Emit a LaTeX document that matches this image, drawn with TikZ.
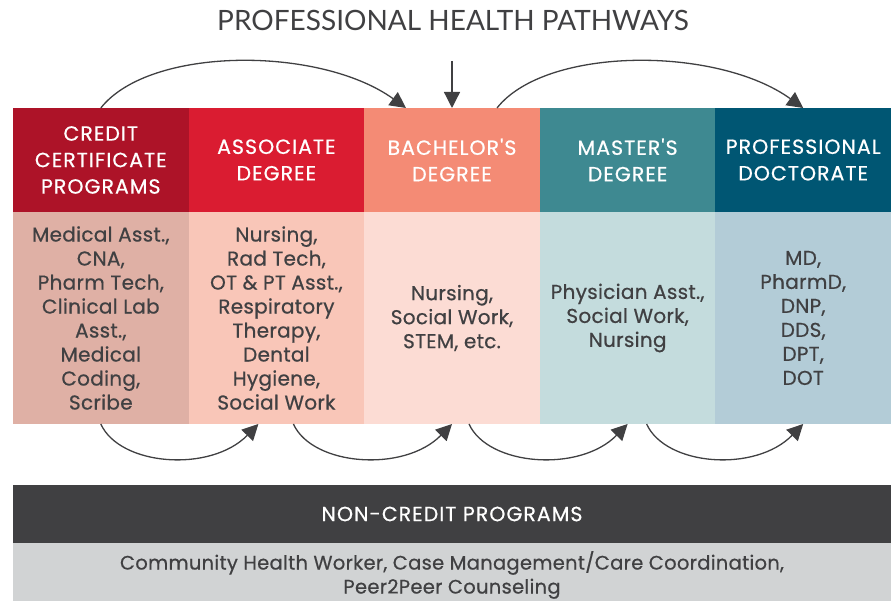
\documentclass[tikz,border=0pt]{standalone}
\usepackage{fontspec}
\setmainfont{Lato}
\newfontfamily\poppins{Poppins}[FakeBold=0.6,LetterSpace=1.5]
\newfontfamily\poppinscaps{Poppins}[FakeBold=0.6,LetterSpace=5]
\usepackage{tikz}
\usetikzlibrary{arrows.meta,calc,positioning}
\definecolor{hdA}{HTML}{AD1328}
\definecolor{hdB}{HTML}{DA1C31}
\definecolor{hdC}{HTML}{F48B75}
\definecolor{hdD}{HTML}{3E8991}
\definecolor{hdE}{HTML}{005673}
\definecolor{bdA}{HTML}{DFB0A5}
\definecolor{bdB}{HTML}{F9C6B8}
\definecolor{bdC}{HTML}{FCDCD4}
\definecolor{bdD}{HTML}{C4DCDD}
\definecolor{bdE}{HTML}{B3CCD7}
\definecolor{ink}{HTML}{404042}
\definecolor{ncgray}{HTML}{D1D3D4}
\tikzset{
  head/.style  = {inner sep=0pt, outer sep=0pt, minimum width=175.6pt, minimum height=104pt,
                  text=white, align=center, font=\poppinscaps\fontsize{20.5}{26.5}\selectfont},
  body/.style  = {inner sep=0pt, outer sep=0pt, minimum width=175.6pt, minimum height=212pt,
                  text=ink, align=center, font=\poppins\fontsize{20}{24}\selectfont},
  ncbar/.style = {inner sep=0pt, outer sep=0pt, minimum width=878pt, minimum height=58pt,
                  align=center, font=\poppins\fontsize{19.5}{24}\selectfont},
  arr/.style   = {-{Triangle[length=16pt,width=16pt]}, line width=1.3pt, ink},
}
\begin{document}
\begin{tikzpicture}[x=1pt,y=1pt]
  \useasboundingbox (0,0) rectangle (891,601);
  \node[text=ink,font=\fontsize{28}{30}\selectfont] (ttl) at (453,581) {PROFESSIONAL HEALTH PATHWAYS};
  % degree headers
  \node[head,fill=hdA,anchor=north west] (cred) at (13,493) {CREDIT\\CERTIFICATE\\PROGRAMS};
  \node[head,fill=hdB,right=0pt of cred] (assoc) {ASSOCIATE\\DEGREE};
  \node[head,fill=hdC,right=0pt of assoc] (bach) {BACHELOR'S\\DEGREE};
  \node[head,fill=hdD,right=0pt of bach] (mast) {MASTER'S\\DEGREE};
  \node[head,fill=hdE,right=0pt of mast] (doct) {PROFESSIONAL\\DOCTORATE};
  % programs
  \node[body,fill=bdA,below=0pt of cred] (credB) {Medical Asst.,\\CNA,\\Pharm Tech,\\Clinical Lab\\Asst.,\\Medical\\Coding,\\Scribe};
  \node[body,fill=bdB,below=0pt of assoc] (assocB) {Nursing,\\Rad Tech,\\OT \& PT Asst.,\\Respiratory\\Therapy,\\Dental\\Hygiene,\\Social Work};
  \node[body,fill=bdC,below=0pt of bach] (bachB) {Nursing,\\Social Work,\\STEM, etc.};
  \node[body,fill=bdD,below=0pt of mast] (mastB) {Physician Asst.,\\Social Work,\\Nursing};
  \node[body,fill=bdE,below=0pt of doct] (doctB) {MD,\\PharmD,\\DNP,\\DDS,\\DPT,\\DOT};
  % non-credit
  \node[ncbar,fill=ink,text=white,anchor=north west,font=\poppinscaps\fontsize{20.5}{24}\selectfont] (noncr) at (13,116) {NON-CREDIT PROGRAMS};
  \node[ncbar,fill=ncgray,text=ink,below=0pt of noncr] (noncrB) {\raisebox{-3pt}[\height][\depth]{\parbox{870pt}{\centering Community Health Worker, Case Management/Care Coordination,\\Peer2Peer Counseling}}};
  % pathways
  \coordinate (drop) at (452,540);
  \draw[arr] (drop) -- (bach.north);
  \draw[arr] (cred.north) .. controls +(49,62) and +(-86,62) .. ($(bach.north)+(-46,0)$);
  \draw[arr] ($(bach.north)+(45,0)$) .. controls +(49,62) and +(-86,62) .. (doct.north);
  \draw[arr] (credB.south) .. controls +(19,-42) and +(-48,-49) .. ($(assocB.south)+(-18,0)$);
  \draw[arr] ($(assocB.south)+(17,0)$) .. controls +(19,-42) and +(-48,-49) .. (bachB.south);
  \draw[arr] ($(bachB.south)+(17,0)$) .. controls +(19,-42) and +(-48,-49) .. (mastB.south);
  \draw[arr] ($(mastB.south)+(19,0)$) .. controls +(19,-42) and +(-48,-49) .. (doctB.south);
\end{tikzpicture}
\end{document}
